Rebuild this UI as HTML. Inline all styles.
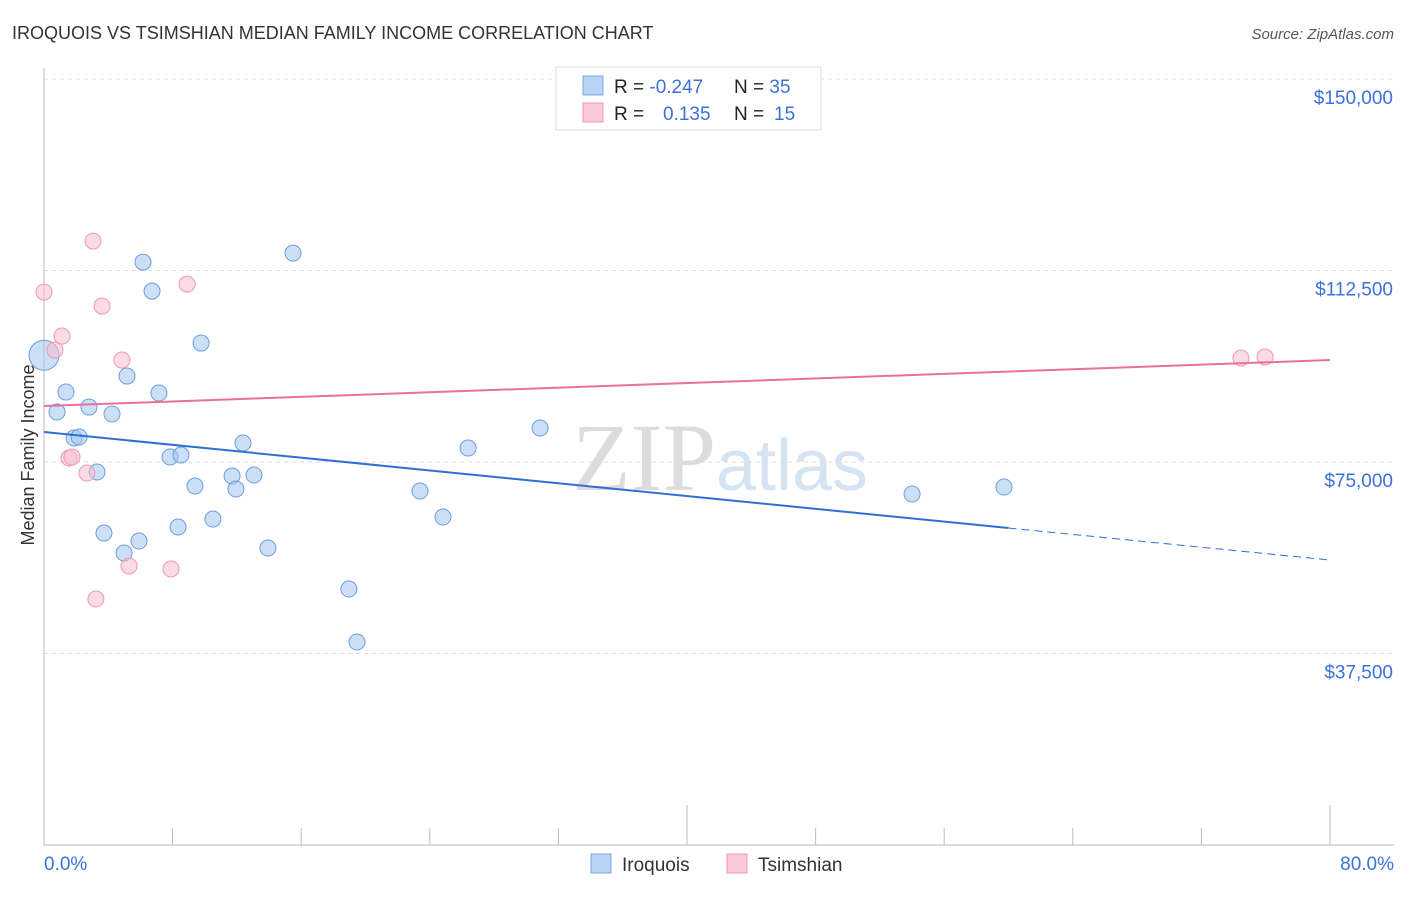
<!DOCTYPE html>
<html><head><meta charset="utf-8"><style>
body{margin:0;background:#fff;font-family:"Liberation Sans",sans-serif}
svg text{font-family:"Liberation Sans",sans-serif}
</style></head><body>
<svg id="c" width="1406" height="892" xmlns="http://www.w3.org/2000/svg">
<text x="12" y="39" font-size="18" fill="#333">IROQUOIS VS TSIMSHIAN MEDIAN FAMILY INCOME CORRELATION CHART</text>
<text x="1394" y="39" font-size="15" fill="#555" font-style="italic" text-anchor="end">Source: ZipAtlas.com</text>
<text x="720" y="490" font-size="96" fill="#e4e4e4" text-anchor="middle" font-family="Liberation Serif"><tspan font-family="Liberation Serif" fill="#dcdcdc">ZIP</tspan><tspan font-family="Liberation Sans" fill="#d5e3f3" font-size="72">atlas</tspan></text>
<text transform="translate(34,455) rotate(-90)" font-size="18" fill="#333" text-anchor="middle">Median Family Income</text>
<g id="grid"></g><g id="marks"></g>
<g>
<rect x="556" y="67" width="265" height="63" fill="#fff" stroke="#ddd"/>
<rect x="583" y="76" width="20" height="19" fill="#b9d3f5" stroke="#7aa7e6"/>
<rect x="583" y="103" width="20" height="19" fill="#fbc9d8" stroke="#ef9ab4"/>
<text x="614" y="93" font-size="19" fill="#222">R = <tspan fill="#3a72d8">-0.247</tspan><tspan x="734">N = </tspan><tspan fill="#3a72d8">35</tspan></text>
<text x="614" y="120" font-size="19" fill="#222">R = <tspan x="663" fill="#3a72d8">0.135</tspan><tspan x="734">N = </tspan><tspan x="774" fill="#3a72d8">15</tspan></text>
</g>
<g>
<rect x="591" y="854" width="20" height="19" fill="#b9d3f5" stroke="#7aa7e6"/>
<text x="622" y="871" font-size="19" fill="#333">Iroquois</text>
<rect x="727" y="854" width="20" height="19" fill="#fbc9d8" stroke="#ef9ab4"/>
<text x="758" y="871" font-size="19" fill="#333">Tsimshian</text>
</g>
</svg>
<script>
const yTicks=[37500,75000,112500,150000];
const yTickLabels=["$37,500","$75,000","$112,500","$150,000"];
const xTickLabels=["0.0%","80.0%"];
const iroX=[0,0.81,1.37,1.87,2.18,2.80,3.30,3.73,4.23,4.98,5.16,5.91,6.16,6.72,7.15,7.84,8.34,8.52,9.39,9.77,10.51,11.70,11.94,12.38,13.06,13.93,15.49,18.97,19.47,23.39,24.82,26.38,30.86,54.0,59.72];
const iroY=[95900,84781,88697,79691,79886,85760,73033,61090,84390,57174,91830,59523,114151,108473,88502,75970,62264,76362,70292,98292,63831,72250,69705,78712,72446,58153,115914,50125,39747,69313,64222,77733,81649,68726,70096];
const tsiX=[0,0.68,1.12,1.56,1.74,2.67,3.05,3.23,3.61,4.85,5.29,7.90,8.90,74.46,75.96];
const tsiY=[108277,96921,99662,75775,75970,72838,118263,48167,105536,94963,54628,54041,109844,95355,95550];
const iroTrend=[80865,55803];
const tsiTrend=[85955,94963];
const NS="http://www.w3.org/2000/svg";
const X=v=>44+v*1286/80, Y=v=>845-v*191.5/37500;
function mk(t,a,p){const e=document.createElementNS(NS,t);for(const k in a)e.setAttribute(k,a[k]);p.appendChild(e);return e;}
const g=document.getElementById('grid'),m=document.getElementById('marks');
yTicks.forEach((t,i)=>{
 const l=mk('line',{x1:44,x2:1394,y1:Y(t),y2:Y(t),stroke:'#ddd','stroke-dasharray':'4,4'},g);
 
 
 const tx=mk('text',{x:1393,y:Y(t)+25,'font-size':19,fill:'#3a72d8','text-anchor':'end'},g);tx.textContent=yTickLabels[i];
 
 
});
mk('line',{x1:44,x2:44,y1:68,y2:845,stroke:'#bbb'},g);
mk('line',{x1:44,x2:1394,y1:845,y2:845,stroke:'#bbb'},g);
for(let i=0;i<=10;i++){const l=mk('line',{x1:X(i*8),x2:X(i*8),y1:i%5==0?805:828,y2:845,stroke:'#bbb'},g);
 
 }
const xl0=mk('text',{x:44,y:870,'font-size':19,fill:'#3a72d8'},g);xl0.textContent=xTickLabels[0];


const xl1=mk('text',{x:1394,y:870,'font-size':19,fill:'#3a72d8','text-anchor':'end'},g);xl1.textContent=xTickLabels[1];


iroX.forEach((x,i)=>{const c=mk('circle',{cx:X(x),cy:Y(iroY[i]),r:i==0?15:8,fill:'rgba(160,196,240,0.55)',stroke:'#6d9de0','stroke-width':1},m);
 
 });
tsiX.forEach((x,i)=>{const c=mk('circle',{cx:X(x),cy:Y(tsiY[i]),r:8,fill:'rgba(250,190,210,0.55)',stroke:'#ec9ab4','stroke-width':1},m);
 
 });
const iy=x=>iroTrend[0]+(iroTrend[1]-iroTrend[0])*x/80;
const l1=mk('line',{x1:X(0),y1:Y(iy(0)),x2:X(60),y2:Y(iy(60)),stroke:'#2f6fd6','stroke-width':2},m);


const l2=mk('line',{x1:X(60),y1:Y(iy(60)),x2:X(80),y2:Y(iy(80)),stroke:'#2f6fd6','stroke-width':1,'stroke-dasharray':'8,5'},m);


const l3=mk('line',{x1:X(0),y1:Y(tsiTrend[0]),x2:X(80),y2:Y(tsiTrend[1]),stroke:'#e8709a','stroke-width':2},m);


</script>
</body></html>
